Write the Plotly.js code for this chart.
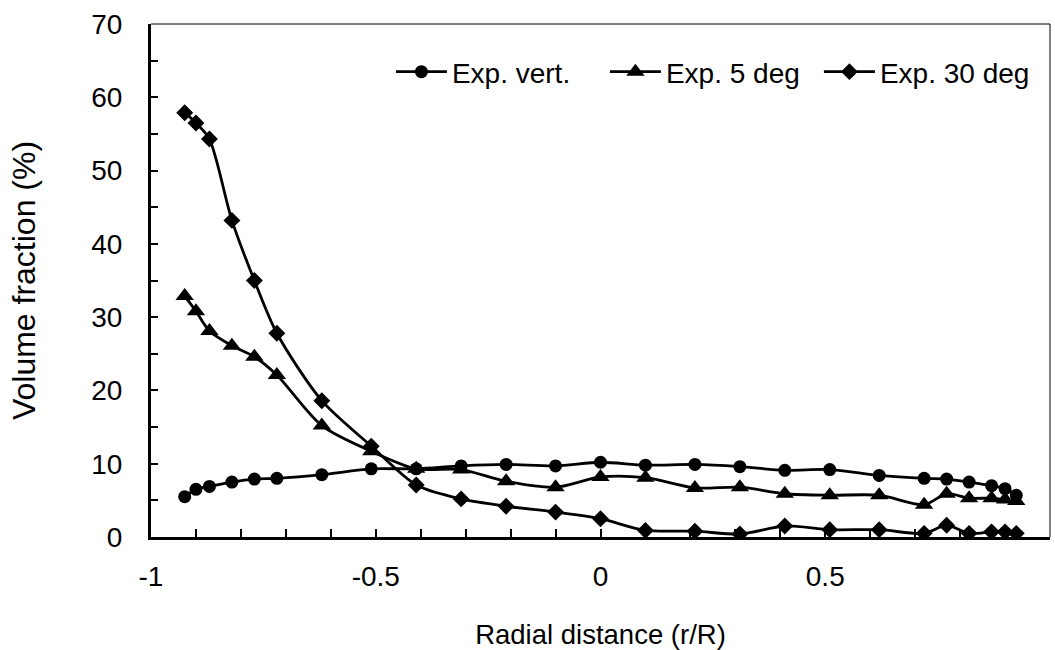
<!DOCTYPE html>
<html>
<head>
<meta charset="utf-8">
<script src="https://cdn.plot.ly/plotly-3.0.1.min.js"></script>
<style>html,body{margin:0;padding:0;background:#fff;}#chart{width:1055px;height:650px;}</style>
</head>
<body>
<div id="chart"></div>
<script>
const radial = [-0.925, -0.9, -0.87, -0.82, -0.77, -0.72, -0.62, -0.51, -0.41, -0.31, -0.21, -0.1, 0, 0.1, 0.21, 0.31, 0.41, 0.51, 0.62, 0.72, 0.77, 0.82, 0.87, 0.9, 0.925];
const expVert = [5.5, 6.5, 6.9, 7.5, 7.9, 8.0, 8.5, 9.3, 9.3, 9.7, 9.9, 9.7, 10.2, 9.8, 9.9, 9.6, 9.1, 9.2, 8.4, 8.0, 7.9, 7.5, 7.0, 6.6, 5.7];
const exp5deg = [32.9, 30.8, 28.1, 26.1, 24.6, 22.1, 15.2, 11.7, 9.3, 9.2, 7.6, 6.8, 8.2, 8.1, 6.7, 6.8, 5.9, 5.7, 5.7, 4.4, 5.9, 5.3, 5.3, 5.1, 4.9];
const exp30deg = [57.9, 56.5, 54.3, 43.2, 35.0, 27.8, 18.6, 12.4, 7.1, 5.2, 4.2, 3.4, 2.5, 0.9, 0.8, 0.4, 1.5, 1.0, 1.0, 0.5, 1.6, 0.5, 0.7, 0.7, 0.5];
const seriesNames = ["Exp. vert.", "Exp. 5 deg", "Exp. 30 deg"];
const xTickVals = [-1, -0.5, 0, 0.5, 1];
const xTickText = ["-1", "-0.5", "0", "0.5", "1"];
const yTickVals = [0, 10, 20, 30, 40, 50, 60, 70];
const yTickText = ["0", "10", "20", "30", "40", "50", "60", "70"];

const font = "Liberation Sans, Arial, sans-serif";
function mk(y, name, symbol, size) {
  return {
    x: radial, y: y, name: name, type: "scatter", mode: "lines+markers",
    line: {color: "#000", width: 2.8, shape: "spline", smoothing: 0.8},
    marker: {symbol: symbol, size: size, color: "#000"}
  };
}
const data = [
  mk(expVert, seriesNames[0], "circle", 13),
  mk(exp5deg, seriesNames[1], "triangle-up", 16),
  mk(exp30deg, seriesNames[2], "diamond", 13)
];
const layout = {
  width: 1055, height: 650,
  margin: {l: 151, r: 5, t: 24, b: 113},
  paper_bgcolor: "#fff", plot_bgcolor: "#fff",
  font: {family: font, size: 28, color: "#000"},
  showlegend: true,
  legend: {orientation: "h", x: 0.981, xanchor: "right", y: 0.9065, yanchor: "middle",
           font: {family: font, size: 28, color: "#000"}, bgcolor: "rgba(0,0,0,0)",
           itemwidth: 51, tracegroupgap: 0, entrywidthmode: "pixels", entrywidth: 148},
  xaxis: {
    range: [-1, 1], tickmode: "array", tickvals: xTickVals, ticktext: xTickText,
    showgrid: false, zeroline: false,
    showline: true, linecolor: "#000", linewidth: 3,
    ticks: "inside", ticklen: 8, tickwidth: 2, tickcolor: "#000",
    minor: {ticks: "inside", dtick: 0.1, tick0: 0, ticklen: 8, tickwidth: 2, tickcolor: "#000", showgrid: false},
    tickfont: {family: font, size: 28, color: "#000"},
    ticklabelstandoff: 12,
    title: {text: "Radial distance (r/R)", font: {family: font, size: 27.5, color: "#000"}, standoff: 37}
  },
  yaxis: {
    range: [0, 70], tickmode: "array", tickvals: yTickVals, ticktext: yTickText,
    showgrid: false, zeroline: false,
    showline: true, linecolor: "#000", linewidth: 3,
    ticks: "inside", ticklen: 7, tickwidth: 2, tickcolor: "#000",
    minor: {ticks: "inside", dtick: 5, tick0: 0, ticklen: 7, tickwidth: 2, tickcolor: "#000", showgrid: false},
    tickfont: {family: font, size: 28, color: "#000"},
    ticklabelstandoff: 20,
    title: {text: "Volume fraction (%)", font: {family: font, size: 32, color: "#000"}, standoff: 47}
  },
  shapes: [
    {type: "line", xref: "paper", yref: "paper", x0: 0, x1: 1, y0: 1, y1: 1, line: {color: "#000", width: 1}},
    {type: "line", xref: "paper", yref: "paper", x0: 1, x1: 1, y0: 0, y1: 1, line: {color: "#000", width: 1}}
  ]
};
Plotly.newPlot("chart", data, layout, {displayModeBar: false, staticPlot: true});
</script>
</body>
</html>
